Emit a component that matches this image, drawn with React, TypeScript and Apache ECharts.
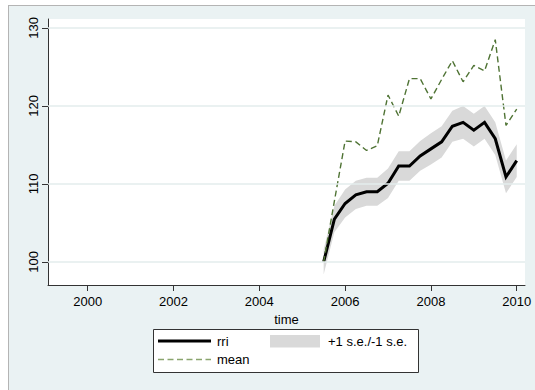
import React, { useEffect, useRef } from "react";
import * as echarts from "echarts";

// Quarterly observations, 2005q3 .. 2010q1
const time = [
  2005.5, 2005.75, 2006.0, 2006.25, 2006.5, 2006.75, 2007.0, 2007.25, 2007.5, 2007.75,
  2008.0, 2008.25, 2008.5, 2008.75, 2009.0, 2009.25, 2009.5, 2009.75, 2010.0,
];
const rri = [
  100.0, 105.5, 107.5, 108.6, 109.0, 109.0, 110.1, 112.3, 112.3, 113.6,
  114.5, 115.4, 117.4, 117.9, 116.9, 117.9, 115.8, 110.9, 113.0,
];
// +1 s.e. / -1 s.e. bounds around rri
const upper = [
  101.6, 107.2, 109.3, 110.4, 110.8, 110.8, 112.0, 114.2, 114.2, 115.5,
  116.5, 117.4, 119.4, 120.0, 119.0, 120.0, 117.9, 113.0, 115.1,
];
const lower = [
  98.4, 103.8, 105.7, 106.8, 107.2, 107.2, 108.2, 110.4, 110.4, 111.7,
  112.5, 113.4, 115.4, 115.8, 114.8, 115.8, 113.7, 108.8, 110.9,
];
const mean = [
  100.0, 107.8, 115.5, 115.4, 114.3, 114.9, 121.4, 118.7, 123.5, 123.5,
  120.9, 123.4, 125.8, 123.1, 125.2, 124.5, 128.5, 117.5, 119.6,
];

const xTicks = [2000, 2002, 2004, 2006, 2008, 2010];
const yTicks = [100, 110, 120, 130];

const FONT = "'Liberation Sans', Arial, Helvetica, sans-serif";
const BAND = "#d9d9d9";
const GREEN = "#4f7334";
const AXIS = "#333333";

export default function App() {
  const ref = useRef<HTMLDivElement>(null);

  useEffect(() => {
    if (!ref.current) return;
    const chart = echarts.init(ref.current, undefined, { renderer: "svg" });

    const bandData = time.map((t, i) => [t, lower[i], upper[i]]);

    chart.setOption({
      animation: false,
      backgroundColor: "transparent",
      textStyle: { fontFamily: FONT },
      grid: {
        left: 48,
        top: 19,
        width: 477,
        height: 266,
        show: true,
        backgroundColor: "#ffffff",
        borderWidth: 0,
      },
      xAxis: {
        type: "value",
        min: 1999.075,
        max: 2010.193,
        name: "time",
        nameLocation: "middle",
        nameGap: 22,
        nameTextStyle: { fontSize: 13, color: "#000", fontFamily: FONT },
        axisLine: { show: true, onZero: false, lineStyle: { color: AXIS, width: 1 } },
        axisTick: { show: true, length: 6, customValues: xTicks, lineStyle: { color: AXIS } },
        axisLabel: {
          customValues: xTicks,
          formatter: (v: number) => String(Math.round(v)),
          fontSize: 13,
          color: "#000",
          margin: 10,
          fontFamily: FONT,
        },
        splitLine: { show: false },
      },
      yAxis: {
        type: "value",
        min: 97.05,
        max: 131.15,
        axisLine: { show: true, onZero: false, lineStyle: { color: AXIS, width: 1 } },
        axisTick: { show: true, length: 6, customValues: yTicks, lineStyle: { color: AXIS } },
        axisLabel: {
          customValues: yTicks,
          formatter: (v: number) => String(Math.round(v)),
          rotate: 90,
          fontSize: 13,
          color: "#000",
          margin: 8,
          fontFamily: FONT,
        },
        splitLine: { show: false },
      },
      series: [
        {
          name: "+1 s.e./-1 s.e.",
          type: "custom",
          data: bandData,
          encode: { x: 0, y: [1, 2] },
          z: 1,
          renderItem: (params: any, api: any) => {
            if (params.dataIndex !== 0) return null;
            const pts: number[][] = [];
            for (let i = 0; i < time.length; i++) pts.push(api.coord([time[i], upper[i]]));
            for (let i = time.length - 1; i >= 0; i--) pts.push(api.coord([time[i], lower[i]]));
            return {
              type: "polygon",
              shape: { points: pts },
              style: { fill: BAND, stroke: "none" },
            };
          },
          markLine: {
            silent: true,
            symbol: "none",
            label: { show: false },
            lineStyle: { color: "#e3eced", width: 1.5, type: "solid" },
            data: yTicks.map((v) => ({ yAxis: v })),
          },
        },
        {
          name: "rri",
          type: "line",
          data: time.map((t, i) => [t, rri[i]]),
          showSymbol: false,
          symbol: "none",
          z: 3,
          lineStyle: { color: "#000", width: 3, join: "miter" },
        },
        {
          name: "mean",
          type: "line",
          data: time.map((t, i) => [t, mean[i]]),
          showSymbol: false,
          symbol: "none",
          z: 4,
          lineStyle: { color: GREEN, width: 1.4, type: [6, 3.5] },
        },
      ],
      graphic: [
        {
          type: "group",
          z: 100,
          children: [
            {
              type: "rect",
              shape: { x: 153.5, y: 329.5, width: 265, height: 43 },
              style: { fill: "#ffffff", stroke: AXIS, lineWidth: 1 },
            },
            {
              type: "line",
              shape: { x1: 158, y1: 341, x2: 211, y2: 341 },
              style: { stroke: "#000", lineWidth: 3 },
            },
            {
              type: "text",
              x: 217,
              y: 341,
              style: { text: "rri", fontSize: 13, fill: "#000", fontFamily: FONT, verticalAlign: "middle" },
            },
            {
              type: "rect",
              shape: { x: 270, y: 335, width: 50, height: 12.5 },
              style: { fill: BAND },
            },
            {
              type: "text",
              x: 328,
              y: 341,
              style: {
                text: "+1 s.e./-1 s.e.",
                fontSize: 13,
                fill: "#000",
                fontFamily: FONT,
                verticalAlign: "middle",
              },
            },
            {
              type: "line",
              shape: { x1: 158, y1: 359.5, x2: 211, y2: 359.5 },
              style: { stroke: "#8aa56e", lineWidth: 1.4, lineDash: [6, 3.5] },
            },
            {
              type: "text",
              x: 217,
              y: 359.5,
              style: { text: "mean", fontSize: 13, fill: "#000", fontFamily: FONT, verticalAlign: "middle" },
            },
          ],
        },
      ],
    });

    return () => chart.dispose();
  }, []);

  return (
    <div style={{ position: "absolute", left: 0, top: 0, width: 535, height: 390, background: "#ffffff", overflow: "hidden" }}>
      <div
        style={{
          position: "absolute",
          left: 8,
          top: 5,
          right: 0,
          bottom: 0,
          background: "#eaf2f3",
          borderTop: "1px solid #b4b4b4",
          borderLeft: "1px solid #b4b4b4",
        }}
      />
      <div ref={ref} style={{ position: "absolute", left: 0, top: 0, width: 535, height: 390 }} />
    </div>
  );
}
